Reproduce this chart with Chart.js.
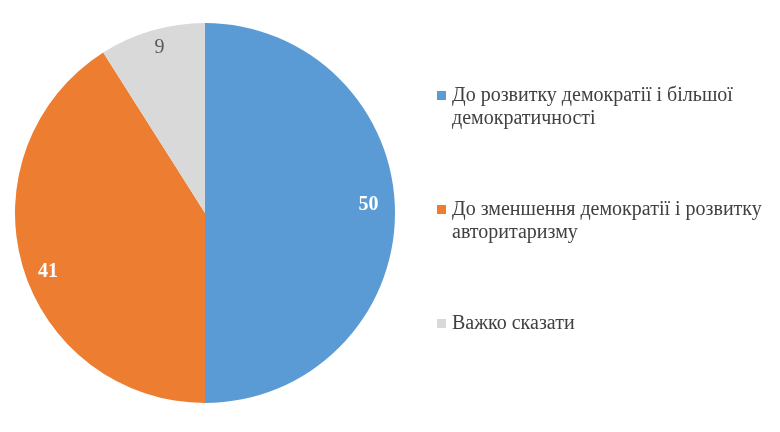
<!DOCTYPE html>
<html>
<head>
<meta charset="utf-8">
<script src="https://cdn.jsdelivr.net/npm/chart.js@4.4.0/dist/chart.umd.min.js"></script>
<style>
  html, body { margin: 0; padding: 0; background: #fff; }
  #wrap { width: 780px; height: 432px; }
</style>
</head>
<body>
<div id="wrap"><canvas id="pieChart" width="780" height="432"></canvas></div>
<script>
const labels = [
  'До розвитку демократії і більшої демократичності',
  'До зменшення демократії і розвитку авторитаризму',
  'Важко сказати'
];
const values = [50, 41, 9];
const colors = ['#5B9BD5', '#ED7D31', '#D9D9D9'];
const valueColors = ['#FFFFFF', '#FFFFFF', '#595959'];
const valueBold = [true, true, false];

const FONT = '"Liberation Serif", "Times New Roman", serif';
// small nudges so the value labels sit where Excel's "best fit" put them
const labelNudge = [[0, -8], [0, 13], [0, -8]];

// split legend text into lines that fit the given width
const wrapText = (ctx, text, maxWidth) => {
  const words = text.split(' ');
  const lines = [];
  let line = '';
  words.forEach(word => {
    const test = line ? line + ' ' + word : word;
    if (ctx.measureText(test).width > maxWidth && line) {
      lines.push(line);
      line = word;
    } else {
      line = test;
    }
  });
  if (line) lines.push(line);
  return lines;
};

const pieLabels = {
  id: 'pieLabels',
  afterDatasetsDraw(chart) {
    const ctx = chart.ctx;
    const meta = chart.getDatasetMeta(0);
    ctx.save();
    ctx.textAlign = 'center';
    ctx.textBaseline = 'middle';
    meta.data.forEach((arc, i) => {
      const mid = (arc.startAngle + arc.endAngle) / 2;
      const r = arc.outerRadius * 0.86;
      const x = arc.x + Math.cos(mid) * r + labelNudge[i][0];
      const y = arc.y + Math.sin(mid) * r + labelNudge[i][1];
      ctx.font = (valueBold[i] ? 'bold ' : '') + '20px ' + FONT;
      ctx.fillStyle = valueColors[i];
      ctx.fillText(String(values[i]), x, y);
    });
    ctx.restore();
  }
};

const sideLegend = {
  id: 'sideLegend',
  afterDraw(chart) {
    const ctx = chart.ctx;
    const left = 437;
    const tops = [96, 210, 324];
    const lineHeight = 23;
    ctx.save();
    ctx.font = '20px ' + FONT;
    ctx.textBaseline = 'middle';
    ctx.textAlign = 'left';
    labels.forEach((text, i) => {
      const y = tops[i];
      ctx.fillStyle = colors[i];
      ctx.fillRect(left, y - 5, 9, 9);
      ctx.fillStyle = '#404040';
      wrapText(ctx, text, 322).forEach((line, j) => {
        ctx.fillText(line, left + 15, y + j * lineHeight);
      });
    });
    ctx.restore();
  }
};

new Chart(document.getElementById('pieChart').getContext('2d'), {
  type: 'pie',
  data: {
    labels: labels,
    datasets: [{
      data: values,
      backgroundColor: colors,
      borderWidth: 0
    }]
  },
  options: {
    responsive: false,
    animation: false,
    layout: {
      padding: { left: 15, top: 23, right: 385, bottom: 29 }
    },
    plugins: {
      legend: { display: false },
      tooltip: { enabled: false }
    }
  },
  plugins: [pieLabels, sideLegend]
});
</script>
</body>
</html>
